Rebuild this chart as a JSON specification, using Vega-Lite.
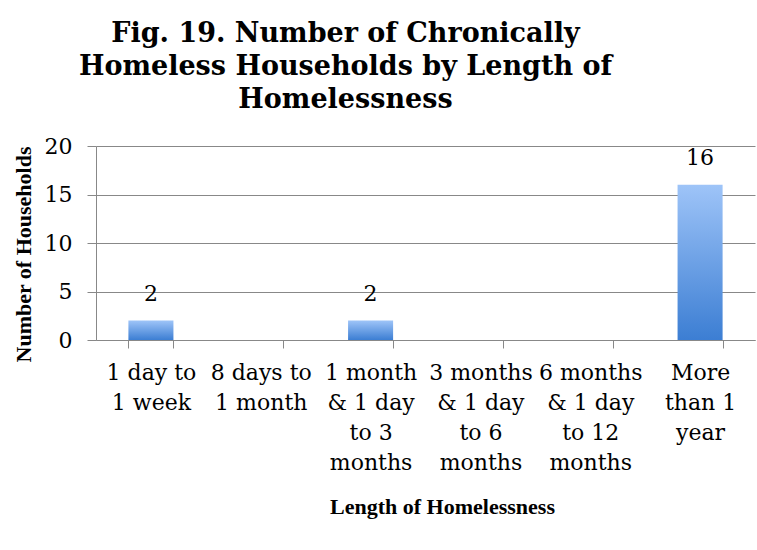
{
  "$schema": "https://vega.github.io/schema/vega-lite/v6.json",
  "autosize": "none",
  "width": 659,
  "height": 194,
  "padding": {"left": 96, "top": 146, "right": 2, "bottom": 210},
  "background": "white",
  "title": {
    "text": ["Fig. 19. Number of Chronically", "Homeless Households by Length of", "Homelessness"],
    "font": "DejaVu Serif",
    "fontSize": 27,
    "fontWeight": "bold",
    "lineHeight": 33,
    "color": "#000000",
    "anchor": "middle",
    "frame": "group",
    "dx": -80,
    "offset": 21
  },
  "data": {
    "values": [
      {"length": "1 day to\n1 week", "households": 2},
      {"length": "8 days to\n1 month", "households": 0},
      {"length": "1 month\n& 1 day\nto 3\nmonths", "households": 2},
      {"length": "3 months\n& 1 day\nto 6\nmonths", "households": 0},
      {"length": "6 months\n& 1 day\nto 12\nmonths", "households": 0},
      {"length": "More\nthan 1\nyear", "households": 16}
    ]
  },
  "encoding": {
    "x": {
      "field": "length",
      "type": "nominal",
      "sort": null,
      "scale": {"paddingInner": 0.59, "paddingOuter": 0.295},
      "axis": {
        "title": "Length of Homelessness",
        "labelAngle": 0,
        "labelExpr": "split(datum.label, '\\n')",
        "labelLineHeight": 30,
        "labelFont": "DejaVu Serif",
        "labelFontSize": 22,
        "labelColor": "#000000",
        "labelPadding": 14,
        "labelBaseline": "top",
        "domainColor": "#888888",
        "tickColor": "#888888",
        "tickSize": 8,
        "tickBand": "extent",
        "titleFont": "Liberation Serif",
        "titleFontSize": 22,
        "titleFontWeight": "bold",
        "titleColor": "#000000",
        "titleX": 346,
        "titleY": 166,
        "titleBaseline": "middle",
        "titleAnchor": "middle"
      }
    },
    "y": {
      "field": "households",
      "type": "quantitative",
      "scale": {"domain": [0, 20]},
      "axis": {
        "title": "Number of Households",
        "values": [0, 5, 10, 15, 20],
        "grid": true,
        "gridColor": "#888888",
        "domainColor": "#888888",
        "tickColor": "#888888",
        "tickSize": 9,
        "labelFont": "DejaVu Serif",
        "labelFontSize": 22,
        "labelColor": "#000000",
        "labelPadding": 15,
        "titleFont": "Liberation Serif",
        "titleFontSize": 22,
        "titleFontWeight": "bold",
        "titleColor": "#000000",
        "titleAngle": -90,
        "titleX": -73,
        "titleY": 108,
        "titleBaseline": "middle",
        "titleAnchor": "middle"
      }
    }
  },
  "layer": [
    {
      "mark": {
        "type": "bar",
        "color": {
          "gradient": "linear",
          "x1": 0, "y1": 0, "x2": 0, "y2": 1,
          "stops": [
            {"offset": 0, "color": "#9ec4f8"},
            {"offset": 1, "color": "#3c7ed3"}
          ]
        }
      }
    },
    {
      "transform": [{"filter": "datum.households > 0"}],
      "mark": {
        "type": "text",
        "font": "DejaVu Serif",
        "fontSize": 22,
        "color": "#000000",
        "baseline": "alphabetic",
        "dy": -20
      },
      "encoding": {
        "text": {"field": "households", "type": "quantitative"}
      }
    }
  ],
  "config": {
    "view": {"stroke": null}
  }
}
